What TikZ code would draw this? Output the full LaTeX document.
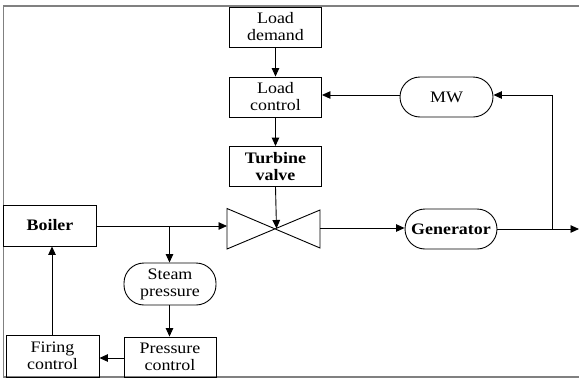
\documentclass[tikz,border=0pt]{standalone}
\usepackage{fontspec}
\setmainfont{Liberation Serif}[FakeStretch=1.12]
\usetikzlibrary{arrows.meta}
\begin{document}
\begin{tikzpicture}[x=1pt,y=-1pt,
  line width=0.9pt,
  font=\fontsize{16}{17}\selectfont,
  blk/.style={draw, minimum width=92pt, minimum height=40pt, inner sep=0pt, align=center},
  rnd/.style={blk, rounded corners=20pt},
  arr/.style={-{Triangle[length=8.5pt,width=7.5pt]}},
  frame/.style={draw=black!50, line width=1.5pt}]
\useasboundingbox (0,0) rectangle (579,378);
\draw[frame] (579,6) -- (3.5,6) -- (3.5,377) -- (579,377);
% blocks
\node[blk] (demand) at (275.5,27) {Load\\demand};
\node[blk] (lctrl) at (275.5,97) {Load\\control};
\node[blk, font=\fontsize{16}{17}\selectfont\bfseries] (tvalve) at (275.5,166.5) {Turbine\\valve};
\node[rnd, minimum width=93pt] (mw) at (446.5,97) {MW};
\node[rnd, font=\fontsize{16}{17}\selectfont\bfseries] (gen) at (451,229) {Generator};
\node[blk, minimum width=93pt, minimum height=41pt, font=\fontsize{16}{17}\selectfont\bfseries] (boiler) at (50,225.5) {Boiler};
\node[rnd, minimum height=42pt] (steam) at (170,284) {Steam\\pressure};
\node[blk] (pctrl) at (170,357) {Pressure\\control};
\node[blk, minimum width=93pt, minimum height=42pt] (fctrl) at (52.5,356) {Firing\\control};
% valve
\coordinate (vc) at (276.5,228.5);
\coordinate (vl1) at (227,208.5);
\coordinate (vl2) at (227,249);
\coordinate (vr1) at (320,210);
\coordinate (vr2) at (320,248);
\coordinate (vin) at (227,226);
\coordinate (vout) at (320,228);
\draw (vl1) -- (vl2) -- (vr1) -- (vr2) -- (vl1) -- cycle;
% connectors
\draw[arr] (demand) -- (lctrl);
\draw[arr] (lctrl) -- (tvalve);
\draw[arr] (tvalve.south) -- (vc);
\draw[arr] (boiler.east |- vin) -- (vin);
\coordinate (br) at (169.5,226);
\draw[arr] (br) -- (br |- steam.north);
\draw[arr] (steam.south -| br) -- (br |- pctrl.north);
\coordinate (fcy) at (0,358);
\draw[arr] (pctrl.west |- fcy) -- (fctrl.east |- fcy);
\coordinate (fx) at (52,0);
\draw[arr] (fx |- fctrl.north) -- (fx |- boiler.south);
\draw[arr] (vout) -- (gen.west |- vout);
\coordinate (outend) at (579,229);
\draw[arr] (gen.east |- outend) -- (outend);
\coordinate (jn) at (552,229);
\coordinate (jt) at (552,95);
\draw[arr] (jn) -- (jt) -- (mw.east |- jt);
\draw[arr] (mw.west |- jt) -- (lctrl.east |- jt);
\end{tikzpicture}
\end{document}
